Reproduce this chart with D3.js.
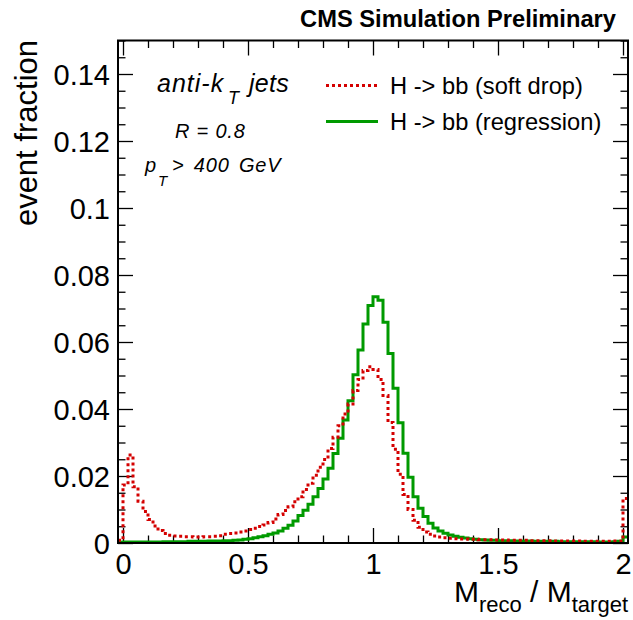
<!DOCTYPE html>
<html>
<head>
<meta charset="utf-8">
<script src="https://cdn.jsdelivr.net/npm/d3@7"></script>
<style>
  html, body { margin: 0; padding: 0; background: #fff; }
  svg { display: block; }
  text { font-family: "Liberation Sans", Arial, Helvetica, sans-serif; }
</style>
</head>
<body>
<svg id="chart" width="633" height="620"></svg>
<script>
// ---------------- DATA ----------------
const binLow = -0.02;     // lower edge of first bin
const binWidth = 0.02;    // bin width
// H -> bb (soft drop), event fraction per bin
const softDrop = [
  0.0008, 0.0173, 0.0263, 0.0168, 0.0125, 0.0094, 0.0070, 0.0051, 0.0037, 0.0028,
  0.0023, 0.0021, 0.0020, 0.0019, 0.0019, 0.0018, 0.0018, 0.0019, 0.0019, 0.0020,
  0.0022, 0.0026, 0.0028, 0.0030, 0.0033, 0.0036, 0.0040, 0.0044, 0.0049, 0.0054,
  0.0061, 0.0072, 0.0085, 0.0097, 0.0108, 0.0123, 0.0138, 0.0160, 0.0178, 0.0202,
  0.0226, 0.0249, 0.0282, 0.0316, 0.0350, 0.0385, 0.0415, 0.0455, 0.0488, 0.0515,
  0.0526, 0.0518, 0.0488, 0.0440, 0.0360, 0.0280, 0.0205, 0.0145, 0.0100, 0.0068,
  0.0047, 0.0033, 0.0026, 0.0021, 0.0018, 0.0016, 0.0014, 0.0013, 0.0012, 0.0012,
  0.0011, 0.0011, 0.0010, 0.0010, 0.0010, 0.0009, 0.0009, 0.0009, 0.0008, 0.0008,
  0.0008, 0.0008, 0.0007, 0.0007, 0.0007, 0.0007, 0.0007, 0.0006, 0.0006, 0.0006,
  0.0006, 0.0006, 0.0006, 0.0005, 0.0005, 0.0005, 0.0005, 0.0005, 0.0005, 0.0006,
  0.0006, 0.0133
];
// H -> bb (regression)
const regression = [
  0.0002, 0.0003, 0.0003, 0.0003, 0.0003, 0.0003, 0.0003, 0.0003, 0.0003, 0.0004,
  0.0004, 0.0004, 0.0004, 0.0004, 0.0005, 0.0005, 0.0005, 0.0005, 0.0006, 0.0006,
  0.0006, 0.0007, 0.0007, 0.0008, 0.0009, 0.0011, 0.0013, 0.0016, 0.0019, 0.0022,
  0.0026, 0.0030, 0.0036, 0.0044, 0.0053, 0.0066, 0.0082, 0.0098, 0.0116, 0.0138,
  0.0163, 0.0191, 0.0223, 0.0267, 0.0313, 0.0367, 0.0425, 0.0502, 0.0576, 0.0654,
  0.0709, 0.0735, 0.0725, 0.0659, 0.0566, 0.0462, 0.0359, 0.0268, 0.0196, 0.0138,
  0.0104, 0.0079, 0.0059, 0.0045, 0.0036, 0.0029, 0.0024, 0.0020, 0.0017, 0.0015,
  0.0013, 0.0011, 0.0010, 0.0009, 0.0008, 0.0008, 0.0007, 0.0007, 0.0007, 0.0006,
  0.0006, 0.0006, 0.0006, 0.0005, 0.0005, 0.0005, 0.0005, 0.0005, 0.0004, 0.0004,
  0.0004, 0.0004, 0.0004, 0.0004, 0.0004, 0.0004, 0.0003, 0.0003, 0.0003, 0.0004,
  0.0005, 0.0018
];
const xTickLabels = [0, 0.5, 1, 1.5, 2];
const yTickLabels = [0, 0.02, 0.04, 0.06, 0.08, 0.1, 0.12, 0.14];
const xDomain = [-0.02, 2.02];
const yDomain = [0, 0.15];

// ---------------- LAYOUT ----------------
const svg = d3.select("#chart");
const L = 118, R = 628, T = 40.5, B = 543;
const x = d3.scaleLinear().domain(xDomain).range([L, R]);
const y = d3.scaleLinear().domain(yDomain).range([B, T]);

const RED = "#d40000", GREEN = "#009a00";
const MAJ = 15, MIN = 7.5;
const xMinor = d3.range(0, 2.001, 0.1).map(v => +v.toFixed(2)).filter(v => !xTickLabels.includes(v));
const yMinor = d3.range(0, 0.1501, 0.005).map(v => +v.toFixed(3)).filter(v => !yTickLabels.includes(v));

function styleAxis(g) {
  g.select(".domain").remove();
  g.selectAll(".tick line").attr("stroke", "#000").attr("stroke-width", 1.3);
  g.selectAll(".tick text").attr("fill", "#000");
}

// bottom axis with labels
const gB = svg.append("g").attr("transform", `translate(0,${B})`)
  .call(d3.axisBottom(x).tickValues(xTickLabels).tickSize(-MAJ).tickPadding(10).tickFormat(d => String(d)))
  .call(styleAxis);
gB.selectAll(".tick text").attr("font-size", 29).attr("font-family", "Liberation Sans, Arial, sans-serif");
svg.append("g").attr("transform", `translate(0,${B})`)
  .call(d3.axisBottom(x).tickValues(xMinor).tickSize(-MIN).tickFormat(""))
  .call(styleAxis);
// top axis (mirror)
svg.append("g").attr("transform", `translate(0,${T})`)
  .call(d3.axisTop(x).tickValues(xTickLabels).tickSize(-MAJ).tickFormat(""))
  .call(styleAxis);
svg.append("g").attr("transform", `translate(0,${T})`)
  .call(d3.axisTop(x).tickValues(xMinor).tickSize(-MIN).tickFormat(""))
  .call(styleAxis);
// left axis with labels
const gL = svg.append("g").attr("transform", `translate(${L},0)`)
  .call(d3.axisLeft(y).tickValues(yTickLabels).tickSize(-MAJ).tickPadding(8).tickFormat(d => String(d)))
  .call(styleAxis);
gL.selectAll(".tick text").attr("font-size", 29).attr("dy", "0.36em").attr("font-family", "Liberation Sans, Arial, sans-serif");
svg.append("g").attr("transform", `translate(${L},0)`)
  .call(d3.axisLeft(y).tickValues(yMinor).tickSize(-MIN).tickFormat(""))
  .call(styleAxis);
// right axis (mirror)
svg.append("g").attr("transform", `translate(${R},0)`)
  .call(d3.axisRight(y).tickValues(yTickLabels).tickSize(-MAJ).tickFormat(""))
  .call(styleAxis);
svg.append("g").attr("transform", `translate(${R},0)`)
  .call(d3.axisRight(y).tickValues(yMinor).tickSize(-MIN).tickFormat(""))
  .call(styleAxis);

// ---------------- HISTOGRAMS ----------------
svg.append("clipPath").attr("id", "frameClip")
  .append("rect").attr("x", L).attr("y", T).attr("width", R - L).attr("height", B - T);

function histPoints(vals) {
  const pts = vals.map((v, i) => [binLow + i * binWidth, v]);
  pts.push([binLow + vals.length * binWidth, vals[vals.length - 1]]);
  return pts;
}
const stepLine = d3.line().x(d => x(d[0])).y(d => y(d[1])).curve(d3.curveStepAfter);

const plot = svg.append("g").attr("clip-path", "url(#frameClip)");
plot.append("path").attr("d", stepLine(histPoints(regression)))
  .attr("fill", "none").attr("stroke", GREEN).attr("stroke-width", 3);
plot.append("path").attr("d", stepLine(histPoints(softDrop)))
  .attr("fill", "none").attr("stroke", RED).attr("stroke-width", 3)
  .attr("stroke-dasharray", "3,3");

// frame
svg.append("rect").attr("x", L).attr("y", T).attr("width", R - L).attr("height", B - T)
  .attr("fill", "none").attr("stroke", "#000").attr("stroke-width", 2);

// ---------------- TEXT ----------------
svg.append("text").attr("x", 616).attr("y", 27).attr("text-anchor", "end")
  .attr("font-size", 23.7).attr("font-weight", "bold").text("CMS Simulation Preliminary");

// y title
svg.append("text").attr("transform", "translate(37,40) rotate(-90)")
  .attr("text-anchor", "end").attr("font-size", 31).text("event fraction");

// x title
const xt = svg.append("text").attr("x", 628).attr("y", 602).attr("text-anchor", "end").attr("font-size", 30);
xt.append("tspan").text("M");
xt.append("tspan").attr("font-size", 22).attr("dy", 10).text("reco");
xt.append("tspan").attr("dy", -10).text("\u00a0/\u00a0M");
xt.append("tspan").attr("font-size", 22).attr("dy", 10).text("target");

// anti-kT jets
const ak = svg.append("text").attr("x", 157).attr("y", 92).attr("font-size", 25)
  .attr("font-style", "italic").attr("letter-spacing", 1);
ak.append("tspan").text("anti-k");
ak.append("tspan").attr("font-size", 18).attr("x", 228).attr("dy", 12).text("T");
ak.append("tspan").attr("x", 249).attr("dy", -12).attr("letter-spacing", 0.3).text("jets");

svg.append("text").attr("x", 175).attr("y", 138).attr("font-size", 20)
  .attr("font-style", "italic").attr("letter-spacing", 0.8).text("R = 0.8");

const pt = svg.append("text").attr("x", 145).attr("y", 172).attr("font-size", 20)
  .attr("font-style", "italic").attr("letter-spacing", 0.8);
pt.append("tspan").text("p");
pt.append("tspan").attr("font-size", 15).attr("x", 158).attr("dy", 14).text("T");
pt.append("tspan").attr("x", 172).attr("dy", -14).attr("word-spacing", 3).text("> 400 GeV");

// legend
const legend = [
  { label: "H -> bb (soft drop)", color: RED, dash: "3,3", y: 85.5 },
  { label: "H -> bb (regression)", color: GREEN, dash: null, y: 121.5 }
];
const lg = svg.append("g");
legend.forEach(e => {
  lg.append("line").attr("x1", 326).attr("x2", 378).attr("y1", e.y).attr("y2", e.y)
    .attr("stroke", e.color).attr("stroke-width", 3).attr("stroke-dasharray", e.dash);
  lg.append("text").attr("x", 390).attr("y", e.y + 8.5).attr("font-size", 23.7).text(e.label);
});
</script>
</body>
</html>
